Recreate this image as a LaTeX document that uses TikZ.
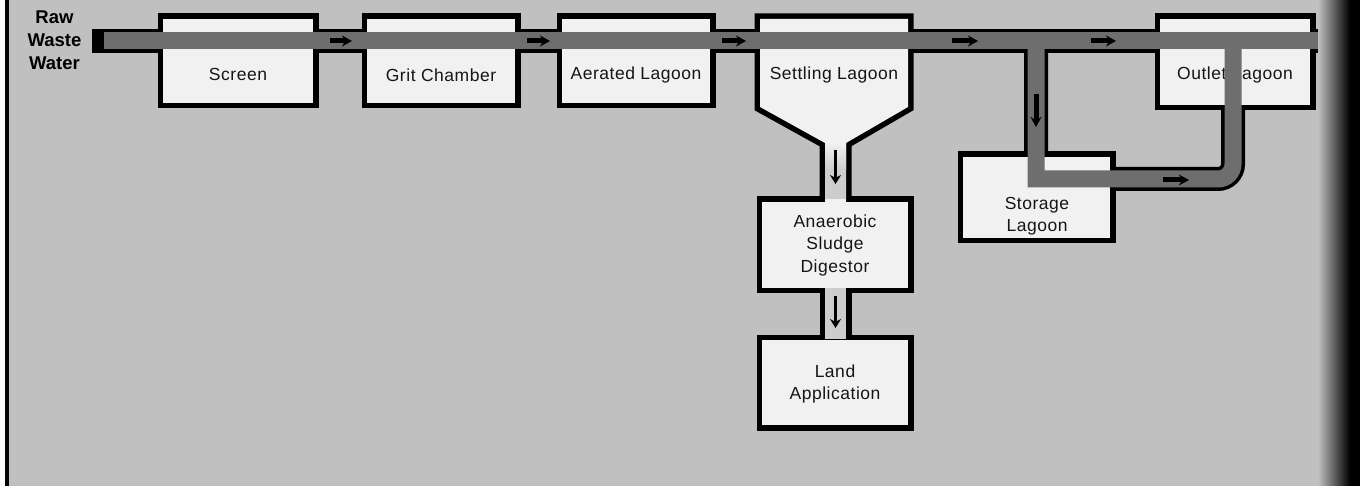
\documentclass[tikz,border=0pt]{standalone}
\usepackage{fontspec}
\setmainfont{Liberation Sans}
\newfontfamily\boxfont{Liberation Sans}[LetterSpace=3]
\usetikzlibrary{arrows.meta}
\definecolor{bg}{HTML}{C0C0C0}
\definecolor{boxfill}{HTML}{F1F1F1}
\definecolor{pipegray}{HTML}{6E6E6E}
\definecolor{neckgray}{HTML}{CDCDCD}
\definecolor{ink}{HTML}{151515}
\tikzset{
  wall/.style={draw=black, fill=black, line width=11pt, line join=miter},
  boxin/.style={fill=boxfill},
  pipeout/.style={draw=black, line width=24pt, line join=miter},
  pipein/.style={draw=pipegray, line width=17pt, line join=miter},
  boxtext/.style={font=\boxfont\fontsize{17.5}{22.5}\selectfont, text=ink, align=center, inner sep=0pt},
  rawtext/.style={font=\bfseries\fontsize{18.5}{23}\selectfont, text=black, align=center, inner sep=0pt},
  flow/.style={-{Stealth[length=10pt,width=11pt]}, line width=5pt, black},
  flowthin/.style={-{Stealth[length=9pt,width=11pt]}, line width=3pt, black},
}
\begin{document}
\begin{tikzpicture}[x=1pt,y=-1pt]
\useasboundingbox (0,0) rectangle (1360,486);
% background and frame
\fill[bg] (0,0) rectangle (1360,486);
\fill[white!92!bg] (0,0) rectangle (5,486);
\fill[black] (5,0) rectangle (9,486);

% pipe coordinates
\coordinate (pstart) at (92,41);
\coordinate (pend) at (1360,41);
\coordinate (bsplit) at (1036,41);
\coordinate (bdown) at (1036,179);
\coordinate (bright) at (1218,179);
\coordinate (bup) at (1233,164);
\coordinate (bjoin) at (1233,41);

% pipe outer walls
\draw[pipeout] (pstart) -- (pend);
\draw[pipeout] (bsplit) -- (bdown) -- (bright) .. controls (1226.3,179) and (1233,172.3) .. (bup) -- (bjoin);

% box walls
\path[wall] (163,19) rectangle (313,103);
\path[wall] (367,19) rectangle (515,103);
\path[wall] (562,19) rectangle (710,103);
\path[wall] (760,19) -- (908,19) -- (908,107) -- (846,143) -- (846,204) -- (825,204) -- (825,143) -- (760,107) -- cycle;
\path[wall] (762,202) rectangle (908,288);
\path[wall] (825,286) rectangle (846,342);
\path[wall] (762,340) rectangle (908,425);
\path[wall] (963,157) rectangle (1110,238);
\path[wall] (1160,19) rectangle (1310,105);

% box interiors
\path[boxin] (163,19) rectangle (313,103);
\path[boxin] (367,19) rectangle (515,103);
\path[boxin] (562,19) rectangle (710,103);
\path[boxin] (760,19) -- (908,19) -- (908,107) -- (846,143) -- (846,204) -- (825,204) -- (825,143) -- (760,107) -- cycle;
\path[boxin] (762,202) rectangle (908,288);
\path[boxin] (762,340) rectangle (908,425);
\path[boxin] (963,157) rectangle (1110,238);
\path[boxin] (1160,19) rectangle (1310,105);
% necks
\shade[top color=boxfill, bottom color=neckgray] (825,143) rectangle (846,170);
\fill[neckgray] (825,170) rectangle (846,199);
\fill[neckgray] (825,288) rectangle (846,339);

% labels
\node[rawtext] (raw) at (54.5,40) {Raw\\Waste\\Water};
\node[boxtext] (screen) at (238,74) {Screen};
\node[boxtext] (grit) at (441,75) {Grit Chamber};
\node[boxtext] (aerated) at (636,75) {Aerated Lagoon};
\node[boxtext] (settling) at (834,75) {Settling Lagoon};
\node[boxtext] (digestor) at (835,245) {Anaerobic\\Sludge\\Digestor};
\node[boxtext] (land) at (835,384) {Land\\Application};
\node[boxtext] (storage) at (1037,216) {Storage\\Lagoon};
\node[boxtext] (outlet) at (1235,75) {Outlet Lagoon};

% pipe interiors
\draw[pipein] (104,41) -- (pend);
\draw[pipein] (bsplit) -- (bdown) -- (bright) .. controls (1226.3,179) and (1233,172.3) .. (bup) -- (bjoin);

% flow arrows
\draw[flow] (330,41) -- (352,41);
\draw[flow] (527,41) -- (550,41);
\draw[flow] (722,41) -- (746,41);
\draw[flow] (952,41) -- (978,41);
\draw[flow] (1091,41) -- (1116,41);
\draw[flow] (1163,180) -- (1189,180);
\draw[flow] (1036,94) -- (1036,127);
\draw[flowthin] (835.5,150) -- (835.5,184);
\draw[flowthin] (835.5,296) -- (835.5,328);

% right edge shadow
\shade[left color=bg, right color=black] (1318,0) rectangle (1350,486);
\fill[black] (1350,0) rectangle (1360,486);
\end{tikzpicture}
\end{document}
